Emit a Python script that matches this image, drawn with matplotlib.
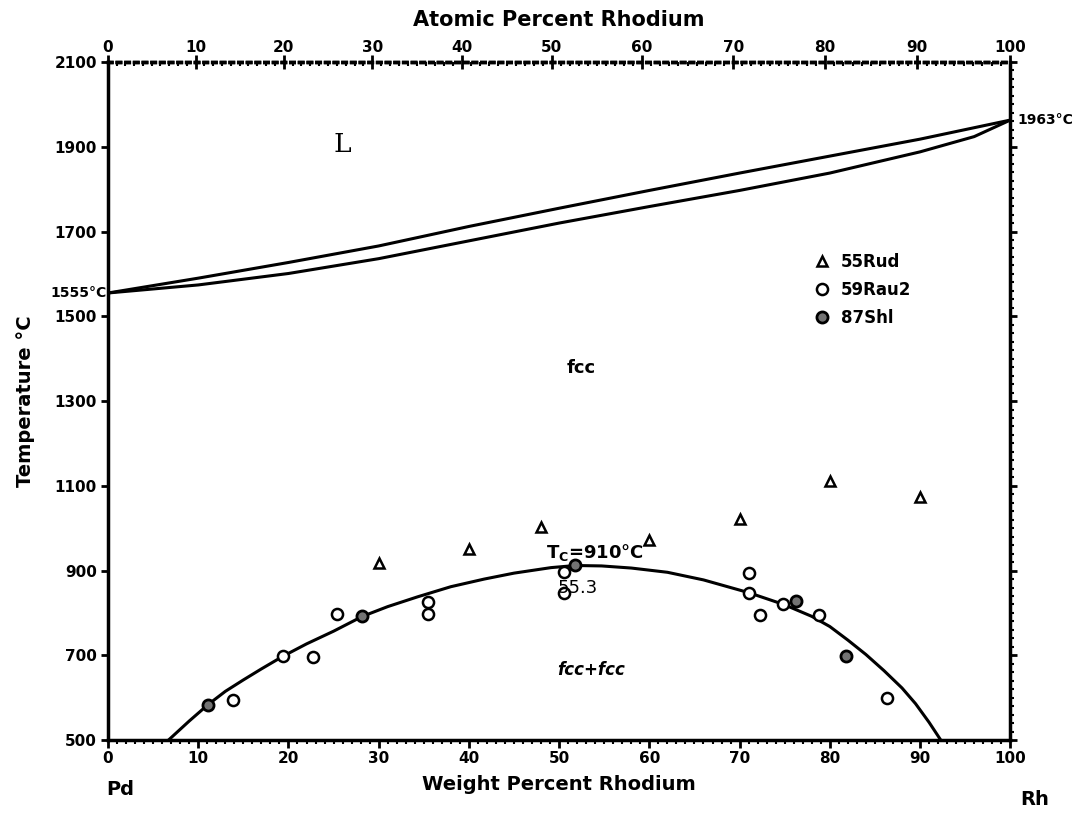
import numpy as np
import matplotlib.pyplot as plt
from matplotlib.ticker import MultipleLocator

plt.rcParams['font.family'] = ['DejaVu Sans']
plt.rcParams['font.weight'] = 'bold'

# atomic masses used for the top (atomic percent) scale
M_RH = 102.906
M_PD = 106.42

# liquidus / solidus (weight % Rh, deg C)
liq_x = [0, 10, 20, 30, 40, 50, 60, 70, 80, 90, 100]
liq_t = [1555, 1590, 1627, 1666, 1712, 1755, 1797, 1838, 1878, 1918, 1963]
sol_x = [0, 10, 20, 30, 40, 50, 60, 70, 80, 90, 96, 100]
sol_t = [1555, 1574, 1601, 1636, 1678, 1720, 1759, 1797, 1838, 1888, 1924, 1963]

# miscibility gap boundary
gap_x = [6.7, 9, 11.1, 13, 15, 17, 19.4, 22, 25, 28.2, 31, 34.3, 38, 41.7, 45, 49.1, 51.8,
         54.7, 58, 62, 66, 71, 74.9, 78, 80, 82, 84, 86, 88, 89.5, 91, 92.3]
gap_t = [500, 545, 584, 615, 642, 668, 698, 727, 757, 792, 815, 838, 862, 880, 894, 907, 912,
         911, 906, 896, 878, 848, 820, 792, 768, 736, 702, 664, 623, 586, 542, 500]

# experimental points
rud_x = [30, 40, 48, 60, 70, 80, 90]
rud_t = [918, 952, 1002, 973, 1021, 1112, 1073]
rau_x = [13.8, 19.4, 22.7, 25.4, 35.5, 35.5, 50.5, 50.5, 71, 71, 72.3, 74.8, 78.8, 86.3]
rau_t = [594, 698, 696, 798, 825, 797, 897, 847, 895, 848, 796, 820, 796, 599]
shl_x = [11.1, 28.2, 51.8, 76.2, 81.8]
shl_t = [584, 792, 914, 828, 698]


def wt2at(w):
    w = np.asarray(w, dtype=float)
    a = w / M_RH
    b = (100 - w) / M_PD
    return 100 * a / (a + b)


def at2wt(a):
    a = np.asarray(a, dtype=float)
    return 100 * a * M_RH / (a * M_RH + (100 - a) * M_PD)


fig = plt.figure(figsize=(10.91, 8.16), dpi=100)
ax = fig.add_axes([0.099, 0.093, 0.827, 0.831])

ax.plot(liq_x, liq_t, color='black', lw=2.2)
ax.plot(sol_x, sol_t, color='black', lw=2.2)
ax.plot(gap_x, gap_t, color='black', lw=2.2)

ax.plot(rud_x, rud_t, ls='none', marker='^', ms=7, mfc='white', mec='black', mew=1.8, label='55Rud')
ax.plot(rau_x, rau_t, ls='none', marker='o', ms=8, mfc='white', mec='black', mew=1.8, label='59Rau2')
ax.plot(shl_x, shl_t, ls='none', marker='o', ms=8, mfc='0.45', mec='black', mew=2.0, label='87Shl')

ax.set_xlim(0, 100)
ax.set_ylim(500, 2100)

# axes frame and ticks
for side in ['left', 'right', 'bottom', 'top']:
    ax.spines[side].set_linewidth(2.5)
ax.spines['top'].set_linestyle((0, (1, 1.5)))

ax.xaxis.set_major_locator(MultipleLocator(10))
ax.xaxis.set_minor_locator(MultipleLocator(1))
ax.yaxis.set_major_locator(MultipleLocator(200))
ax.yaxis.set_minor_locator(MultipleLocator(20))
ax.tick_params(axis='x', which='major', direction='out', length=6, width=2, labelsize=11, pad=2)
ax.tick_params(axis='x', which='minor', direction='out', length=3, width=1.5)
ax.tick_params(axis='y', which='major', direction='out', length=5, width=2, labelsize=11,
               right=True, pad=3)
ax.tick_params(axis='y', which='minor', direction='out', length=3, width=1.5, left=False, right=True)
ax.tick_params(top=False, which='both')
ax.set_yticks(np.arange(500, 2101, 200))

top = ax.secondary_xaxis('top', functions=(wt2at, at2wt))
top.set_xticks(np.arange(0, 101, 10))
top.xaxis.set_minor_locator(MultipleLocator(1))
top.tick_params(which='major', direction='inout', length=10, width=2, labelsize=11, pad=0)
top.tick_params(which='minor', direction='in', length=3, width=1.5)
top.spines['top'].set_linestyle((0, (1, 1.5)))
top.spines['top'].set_linewidth(2.5)
top.set_xlabel('Atomic Percent Rhodium', fontsize=15, fontweight='bold', labelpad=10)

ax.set_xlabel('Weight Percent Rhodium', fontsize=14, fontweight='bold', labelpad=6)
ax.set_ylabel('Temperature \u00b0C', fontsize=14, fontweight='bold', labelpad=14)

# labels on the diagram
ax.text(26, 1905, 'L', fontsize=19, family='DejaVu Serif', fontweight='normal', ha='center', va='center')
ax.text(52.4, 1378, 'fcc', fontsize=13, ha='center', va='center')
ax.text(53.5, 665, 'fcc+fcc', fontsize=12, ha='center', va='center', style='italic')
ax.text(48.5, 942, 'T$_\\mathbf{C}$=910\u00b0C', fontsize=13, ha='left', va='center')
ax.text(49.8, 860, '55.3', fontsize=13, ha='left', va='center', fontweight='normal')
ax.text(-0.002, 1555, '1555\u00b0C', transform=ax.get_yaxis_transform(), fontsize=10,
        ha='right', va='center')
ax.text(1.008, 1963, '1963\u00b0C', transform=ax.get_yaxis_transform(), fontsize=10,
        ha='left', va='center')
fig.text(0.097, 0.032, 'Pd', fontsize=14, fontweight='bold', ha='left', va='center')
fig.text(0.935, 0.020, 'Rh', fontsize=14, fontweight='bold', ha='left', va='center')

ax.legend(loc='upper left', bbox_to_anchor=(0.775, 0.728), frameon=False, fontsize=12,
          handlelength=1.0, handletextpad=0.6, labelspacing=0.6, borderaxespad=0)

fig.savefig('out.png', dpi=100)
